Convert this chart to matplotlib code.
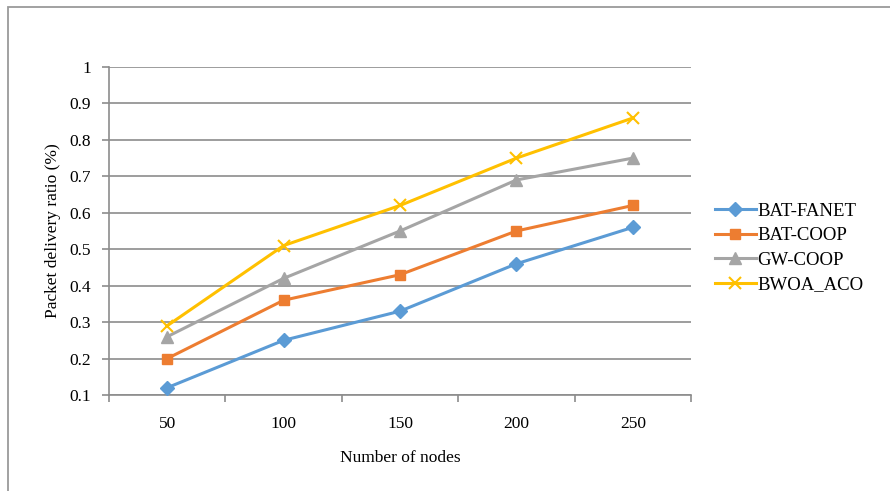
import matplotlib.pyplot as plt
from matplotlib.patches import Rectangle

plt.rcParams['font.family'] = ['Liberation Serif', 'DejaVu Serif']

nodes = ["50", "100", "150", "200", "250"]
bat_fanet = [0.12, 0.25, 0.33, 0.46, 0.56]
bat_coop = [0.20, 0.36, 0.43, 0.55, 0.62]
gw_coop = [0.26, 0.42, 0.55, 0.69, 0.75]
bwoa_aco = [0.29, 0.51, 0.62, 0.75, 0.86]
y_ticks = [0.1, 0.2, 0.3, 0.4, 0.5, 0.6, 0.7, 0.8, 0.9, 1.0]

fig = plt.figure(figsize=(8.9, 4.91), dpi=100)
W, H = 890, 491
ax = fig.add_axes([109 / W, 1 - 395 / H, (691 - 109) / W, (395 - 67) / H])

# outer chart frame
fig.patches.append(Rectangle((8 / W, -0.05), 1.1, 1 - 7 / H + 0.05,
                             transform=fig.transFigure, fill=False,
                             edgecolor="#9a9a9a", linewidth=1.3))

x = list(range(len(nodes)))
series = [
    (bat_fanet, "BAT-FANET", "#5B9BD5", "D", 7),
    (bat_coop, "BAT-COOP", "#ED7D31", "s", 7),
    (gw_coop, "GW-COOP", "#A5A5A5", "^", 8),
    (bwoa_aco, "BWOA_ACO", "#FFC000", "x", 9),
]
for vals, name, col, mk, ms in series:
    ax.plot(x, vals, color=col, linewidth=2.2, marker=mk, markersize=ms,
            markeredgewidth=1.5 if mk == "x" else 1, label=name, zorder=3)

ax.set_xlim(-0.5, 4.5)
ax.set_ylim(0.1, 1.0)
ax.set_yticks(y_ticks)
ax.set_yticklabels([f"{v:g}" for v in y_ticks])
ax.set_xticks([i - 0.5 for i in range(len(nodes) + 1)])
ax.set_xticklabels([])
ax.set_xticks(x, minor=True)
ax.set_xticklabels(nodes, minor=True)
ax.tick_params(axis="x", which="minor", length=0, pad=15, labelsize=12.5)
ax.tick_params(axis="x", which="major", length=5, color="#8c8c8c", width=1.2)
ax.tick_params(axis="y", length=5, color="#8c8c8c", width=1.2, labelsize=12.5, pad=8)

ax.grid(axis="y", color="#8c8c8c", linewidth=1.2)
ax.set_axisbelow(True)
for side in ["top", "right"]:
    ax.spines[side].set_visible(False)
for side in ["left", "bottom"]:
    ax.spines[side].set_color("#8c8c8c")
    ax.spines[side].set_linewidth(1.2)

ax.set_xlabel("Number of nodes", fontsize=12.5, labelpad=13)
ax.set_ylabel("Packet delivery ratio (%)", fontsize=12.5, labelpad=6)

ax.legend(loc="center left", bbox_to_anchor=(0.028 + 1, 0.448), borderaxespad=0,
          frameon=False, prop={"size": 13.5}, handlelength=2.2,
          handletextpad=0.05, labelspacing=0.4)

fig.savefig("out.png", dpi=100)
